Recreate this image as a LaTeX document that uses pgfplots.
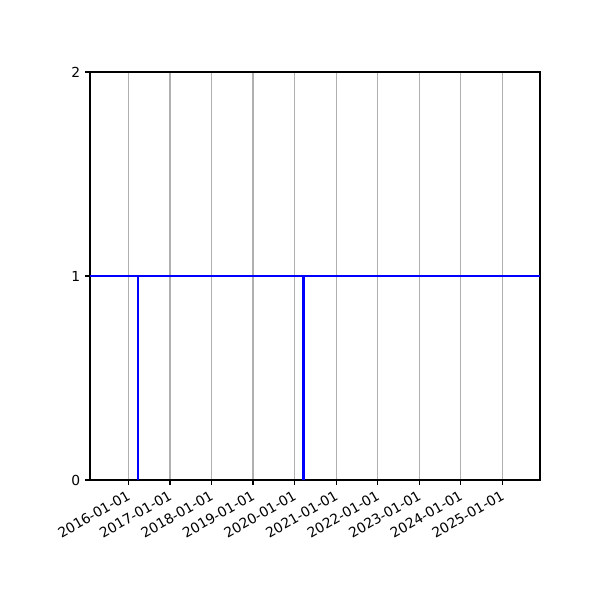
\documentclass[border=0pt]{standalone}
\usepackage{pgfplots}
\pgfplotsset{compat=1.18}
\usepackage{fontspec}
\setmainfont{DejaVu Sans}

\begin{document}
\begin{tikzpicture}
% page is 6in x 6in, axis box starts 0.9in from left, 1.2in from bottom
\path[use as bounding box] (-0.9in,-1.2in) rectangle (5.1in,4.8in);
\begin{axis}[
    at={(0,0)}, anchor=south west,
    width=4.5in, height=4.08in, scale only axis,
    xmin=-337, xmax=3619,
    ymin=0, ymax=2,
    ytick={0,1,2},
    xtick={0,366,731,1096,1461,1827,2192,2557,2922,3288},
    xticklabels={2016-01-01,2017-01-01,2018-01-01,2019-01-01,2020-01-01,2021-01-01,2022-01-01,2023-01-01,2024-01-01,2025-01-01},
    xticklabel style={rotate=30, anchor=north east, inner sep=1pt, yshift=-1pt, xshift=-2pt},
    tick pos=left,
    tick align=outside,
    major tick length=3.5pt,
    every tick/.style={black, line width=0.8pt},
    axis line style={line width=0.8pt},
    xmajorgrids=true,
    grid style={color=black!31, line width=0.8pt},
    tick label style={font=\fontsize{10}{12}\selectfont},
    /pgf/number format/assume math mode=true,
]
\addplot[blue, line width=1.9pt, mark=none] coordinates {
    (-337,1) (85,1) (85,0) (85,1) (1538,1) (1538,0) (1538,1) (3619,1)
};
\end{axis}
\end{tikzpicture}
\end{document}
